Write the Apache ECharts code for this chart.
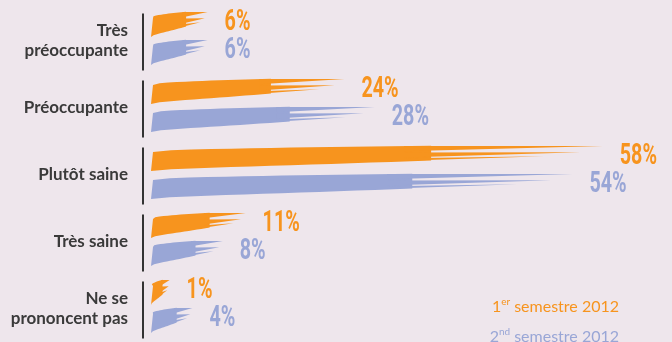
<!DOCTYPE html>
<html>
<head>
<meta charset="utf-8">
<script src="https://cdn.jsdelivr.net/npm/echarts@6/dist/echarts.min.js"></script>
<style>
html,body{margin:0;padding:0;background:#EEE6EC;}
#chart{width:672px;height:342px;}
</style>
</head>
<body>
<div id="chart"></div>
<script>
const categories = ['Très préoccupante', 'Préoccupante', 'Plutôt saine', 'Très saine', 'Ne se prononcent pas'];
const tickLabels = ['Très\npréoccupante', 'Préoccupante', 'Plutôt saine', 'Très saine', 'Ne se\nprononcent pas'];
const sem1 = [6, 24, 58, 11, 1];
const sem2 = [6, 28, 54, 8, 4];
const seriesNames = ['1er semestre 2012', '2nd semestre 2012'];
const colors = ['#F7941E', '#99A6D6'];

const chart = echarts.init(document.getElementById('chart'));

function brush(offset, color) {
  return function (params, api) {
    const v = api.value(0), i = api.value(1);
    const base = api.coord([0, i]);
    const x0 = base[0] + 1;
    const yc = base[1] + offset;
    const end = api.coord([v, i])[0] + 12;
    const L = end - x0;
    const h = 19;
    const R = 8;
    const cy = t => yc - R * Math.sqrt(t);
    const X = t => x0 + t * L;
    const tb = 0.62;
    const top = [], bot = [];
    const N = 14;
    for (let k = 0; k <= N; k++) {
      const t = tb * k / N;
      top.push([X(t) + (k === 0 ? 2 : 0), cy(t) - 0.5 * h]);
      bot.push([X(t), cy(t) + 0.5 * h - 0.22 * h * Math.pow(t / tb, 1.6)]);
    }
    const body = top.concat(bot.reverse());
    const ts = 0.56;
    const sA = [[X(ts), cy(ts) - 0.5 * h], [end, cy(1) - 0.40 * h], [X(ts), cy(ts) - 0.22 * h]];
    const sB = [[X(ts), cy(ts) - 0.16 * h], [X(0.95), cy(0.95) - 0.08 * h], [X(ts), cy(ts) + 0.1 * h]];
    const sC = [[X(ts), cy(ts) + 0.14 * h], [X(0.87), cy(0.87) + 0.12 * h], [X(ts), cy(ts) + 0.28 * h]];
    const st = { fill: color };
    return {
      type: 'group',
      children: [
        { type: 'polygon', shape: { points: body }, style: st },
        { type: 'polygon', shape: { points: sA }, style: st },
        { type: 'polygon', shape: { points: sB }, style: st },
        { type: 'polygon', shape: { points: sC }, style: st },
        {
          type: 'text', x: end + 17, y: yc - 5, scaleX: 0.68,
          style: {
            text: v + '%', x: 0, y: 0, verticalAlign: 'middle',
            fill: color, fontSize: 29, fontWeight: 'bold', fontFamily: 'Roboto'
          }
        }
      ]
    };
  };
}

function legendFor(idx, top) {
  return {
    orient: 'vertical', right: 48, top: top, icon: 'none', itemWidth: 1, itemHeight: 10,
    selectedMode: false,
    data: [{ name: seriesNames[idx], textStyle: { color: colors[idx] } }],
    formatter: function (name) {
      return name === seriesNames[0] ? '1{sup|er} semestre 2012' : '2{sup|nd} semestre 2012';
    },
    textStyle: {
      fontFamily: 'Lato', fontSize: 16,
      rich: { sup: { fontSize: 10, fontFamily: 'Lato', padding: [0, 0, 9, 0] } }
    }
  };
}

const option = {
  backgroundColor: '#EEE6EC',
  animation: false,
  grid: { left: 150, right: 66, top: 7, height: 338 },
  xAxis: { type: 'value', min: 0, max: 60, show: false },
  yAxis: {
    type: 'category', data: categories, inverse: true,
    axisLine: { show: false }, axisTick: { show: false }, splitLine: { show: false },
    axisLabel: {
      formatter: (v, i) => tickLabels[i], margin: 22, color: '#3a3a3a',
      fontFamily: 'Lato', fontWeight: 'bold', fontSize: 17, lineHeight: 20, align: 'right'
    }
  },
  legend: [legendFor(0, 292), legendFor(1, 322)],
  series: [
    {
      type: 'custom', name: 'axis', silent: true,
      data: categories.map((c, i) => [0, i]),
      encode: { x: 0, y: 1 },
      renderItem: function (params, api) {
        const p = api.coord([0, api.value(1)]);
        return {
          type: 'line',
          shape: { x1: p[0] - 7, y1: p[1] - 27, x2: p[0] - 7, y2: p[1] + 30 },
          style: { stroke: '#333', lineWidth: 2 }
        };
      }
    },
    {
      type: 'custom', name: seriesNames[0], color: colors[0],
      data: sem1.map((v, i) => [v, i]), encode: { x: 0, y: 1 },
      renderItem: brush(-13, colors[0])
    },
    {
      type: 'custom', name: seriesNames[1], color: colors[1],
      data: sem2.map((v, i) => [v, i]), encode: { x: 0, y: 1 },
      renderItem: brush(15, colors[1])
    }
  ]
};
chart.setOption(option);
</script>
</body>
</html>
